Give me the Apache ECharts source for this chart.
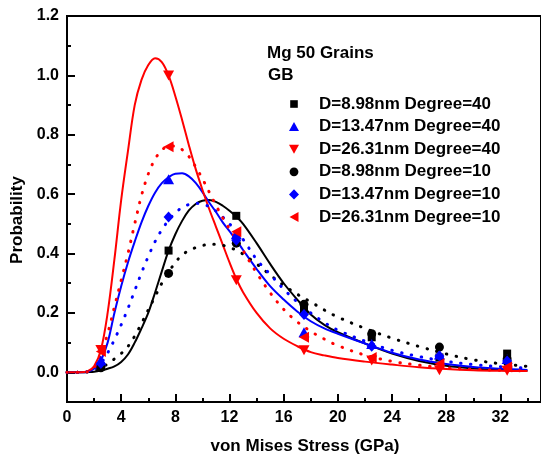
<!DOCTYPE html>
<html><head><meta charset="utf-8">
<script src="https://cdn.jsdelivr.net/npm/echarts@6/dist/echarts.min.js"></script>
<style>html,body{margin:0;padding:0;background:#fff}#c{width:541px;height:459px}</style>
</head><body><div id="c"></div>
<script>
// ---- data ----
const xTicks = [0, 4, 8, 12, 16, 20, 24, 28, 32];
const yTicks = [0, 0.2, 0.4, 0.6, 0.8, 1.0, 1.2];
const stressBins = [2.5, 7.5, 12.5, 17.5, 22.5, 27.5, 32.5];
const seriesNames = ['D=8.98nm Degree=40', 'D=13.47nm Degree=40', 'D=26.31nm Degree=40',
                     'D=8.98nm Degree=10', 'D=13.47nm Degree=10', 'D=26.31nm Degree=10'];
const pts_898_40  = [0.02, 0.41, 0.527, 0.21, 0.118, 0.05, 0.063];
const pts_1347_40 = [0.04, 0.65, 0.465, 0.135, 0.095, 0.06, 0.045];
const pts_2631_40 = [0.075, 1.0, 0.31, 0.074, 0.04, 0.007, 0.005];
const pts_898_10  = [0.015, 0.333, 0.435, 0.229, 0.13, 0.085, 0.045];
const pts_1347_10 = [0.03, 0.523, 0.445, 0.195, 0.088, 0.055, 0.038];
const pts_2631_10 = [0.07, 0.76, 0.473, 0.118, 0.05, 0.029, 0.018];

const curveX = [0,1,1.5,2,2.5,3,3.5,4,4.5,5,
                5.5,6,6.5,7,7.5,8,8.5,9,9.5,10,
                10.5,11,11.5,12,12.5,13,14,15,16,17,
                18,19,20,22,24,26,28,30,32,34];
const fit_898_40 = [0,0,0.001,0.002,0.006,0.012,0.02,0.035,0.06,0.1,
                    0.148,0.2,0.268,0.34,0.41,0.465,0.51,0.545,0.567,0.578,
                    0.58,0.574,0.561,0.544,0.524,0.5,0.435,0.365,0.3,0.245,
                    0.195,0.16,0.135,0.097,0.063,0.038,0.022,0.013,0.008,0.005];
const fit_1347_40 = [0,0,0.002,0.012,0.04,0.1,0.2,0.29,0.37,0.44,
                     0.505,0.56,0.605,0.637,0.657,0.669,0.67,0.66,0.638,0.607,
                     0.572,0.54,0.505,0.475,0.445,0.412,0.348,0.29,0.245,0.205,
                     0.172,0.148,0.13,0.097,0.066,0.043,0.028,0.018,0.012,0.008];
const fit_2631_40 = [0,0,0.003,0.02,0.075,0.2,0.38,0.58,0.745,0.9,
                     0.985,1.035,1.058,1.045,1.0,0.93,0.85,0.765,0.685,0.615,
                     0.55,0.49,0.43,0.37,0.315,0.27,0.2,0.148,0.113,0.088,
                     0.068,0.057,0.048,0.036,0.026,0.017,0.011,0.007,0.005,0.004];
const fit_898_10 = [0,0,0.001,0.005,0.015,0.028,0.045,0.063,0.087,0.122,
                    0.165,0.21,0.255,0.3,0.337,0.37,0.395,0.41,0.42,0.427,
                    0.431,0.431,0.428,0.421,0.411,0.398,0.365,0.328,0.293,0.263,
                    0.237,0.21,0.186,0.148,0.115,0.087,0.062,0.042,0.029,0.02];
const fit_1347_10 = [0,0,0.002,0.01,0.03,0.065,0.11,0.16,0.215,0.275,
                     0.335,0.39,0.44,0.48,0.512,0.537,0.555,0.565,0.569,0.567,
                     0.558,0.543,0.523,0.5,0.475,0.448,0.38,0.33,0.28,0.237,
                     0.2,0.168,0.142,0.105,0.074,0.053,0.037,0.026,0.019,0.014];
const fit_2631_10 = [0,0,0.002,0.015,0.06,0.13,0.22,0.31,0.4,0.5,
                     0.595,0.668,0.718,0.748,0.762,0.762,0.75,0.727,0.692,0.652,
                     0.607,0.563,0.52,0.483,0.448,0.41,0.335,0.268,0.212,0.17,
                     0.138,0.112,0.09,0.058,0.037,0.024,0.015,0.01,0.007,0.005];

// ---- chart ----
const FONT = '"Liberation Sans", Arial, sans-serif';
const BLACK = '#000000', BLUE = '#0000ff', RED = '#ff0000';
const pair = (xs, ys) => xs.map((x, i) => [x, ys[i]]);

const downTri = 'path://M0,0L10,0L5,9Z';
const leftTri = 'path://M0,5L9,0L9,10Z';

const markerDefs = [
  {data: pts_898_40,  color: BLACK, symbol: 'rect', size: 8,
   icon: 'path://M0,0M12,12M2.2,2.2L9.8,2.2L9.8,9.8L2.2,9.8Z'},
  {data: pts_1347_40, color: BLUE, symbol: 'triangle', size: [11, 10],
   icon: 'path://M0,0M12,12M1,10.5L11,10.5L6,1.5Z'},
  {data: pts_2631_40, color: RED, symbol: downTri, size: [11, 10],
   icon: 'path://M0,0M12,12M1,1.5L11,1.5L6,10.5Z'},
  {data: pts_898_10,  color: BLACK, symbol: 'circle', size: 9,
   icon: 'path://M0,0M12,12M1.6,6A4.4,4.4,0,1,0,10.4,6A4.4,4.4,0,1,0,1.6,6Z'},
  {data: pts_1347_10, color: BLUE, symbol: 'diamond', size: [10, 11],
   icon: 'path://M0,0M12,12M6,0.8L11,6L6,11.2L1,6Z'},
  {data: pts_2631_10, color: RED, symbol: leftTri, size: [10, 11],
   icon: 'path://M0,0M12,12M1.5,6L10.5,1L10.5,11Z'}
];
const fitDefs = [
  {data: fit_898_40, color: BLACK, dotted: false},
  {data: fit_1347_40, color: BLUE, dotted: false},
  {data: fit_2631_40, color: RED, dotted: false},
  {data: fit_898_10, color: BLACK, dotted: true},
  {data: fit_1347_10, color: BLUE, dotted: true},
  {data: fit_2631_10, color: RED, dotted: true}
];

const series = [];
fitDefs.forEach((f, i) => {
  series.push({
    type: 'line', name: 'fit' + i, xAxisIndex: 0, yAxisIndex: 0,
    data: pair(curveX, f.data), showSymbol: false, smooth: 0.35,
    silent: true, z: 2, clip: true,
    lineStyle: f.dotted
      ? {color: f.color, width: 3, type: [0.5, 9.5], cap: 'round'}
      : {color: f.color, width: 2}
  });
});
markerDefs.forEach((m, i) => {
  series.push({
    type: 'scatter', name: seriesNames[i], xAxisIndex: 0, yAxisIndex: 0,
    data: pair(stressBins, m.data), symbol: m.symbol, symbolSize: m.size,
    itemStyle: {color: m.color, opacity: 1}, z: 5
  });
});

const labelStyle = {color: '#000', fontFamily: FONT, fontWeight: 'bold', fontSize: 16};

const option = {
  animation: false,
  backgroundColor: '#ffffff',
  grid: {left: 67, top: 16, width: 490, height: 386, show: true,
         borderColor: '#000', borderWidth: 2, backgroundColor: 'transparent'},
  xAxis: [
    {type: 'value', min: 0, max: 35, position: 'bottom',
     axisLine: {show: true, onZero: false, lineStyle: {color: '#000', width: 2}},
     axisTick: {show: true, inside: true, length: 8, lineStyle: {color: '#000', width: 2}, customValues: xTicks},
     axisLabel: Object.assign({margin: 8, customValues: xTicks, formatter: v => String(v)}, labelStyle),
     splitLine: {show: false}},
    {type: 'value', min: 0, max: 35, interval: 2, position: 'bottom', offset: 0,
     axisLine: {show: false, onZero: false},
     axisTick: {show: true, inside: true, length: 4, lineStyle: {color: '#000', width: 2}},
     axisLabel: {show: false}, splitLine: {show: false}}
  ],
  yAxis: [
    {type: 'value', min: -0.1, max: 1.2, position: 'left',
     axisLine: {show: true, onZero: false, lineStyle: {color: '#000', width: 2}},
     axisTick: {show: true, inside: true, length: 8, lineStyle: {color: '#000', width: 2}, customValues: yTicks},
     axisLabel: Object.assign({margin: 8, customValues: yTicks, formatter: v => v.toFixed(1)}, labelStyle),
     splitLine: {show: false}},
    {type: 'value', min: -0.1, max: 1.2, interval: 0.1, position: 'left', offset: 0,
     axisLine: {show: false, onZero: false},
     axisTick: {show: true, inside: true, length: 4, lineStyle: {color: '#000', width: 2}},
     axisLabel: {show: false}, splitLine: {show: false}}
  ],
  legend: {
    orient: 'vertical', left: 283, top: 90, itemWidth: 12, itemHeight: 12, itemGap: 4.6,
    data: seriesNames.map((n, i) => ({name: n, icon: markerDefs[i].icon})),
    textStyle: {color: '#000', fontFamily: FONT, fontWeight: 'bold', fontSize: 17,
                lineHeight: 18, padding: [0, 0, 0, 14]},
    selectedMode: false
  },
  graphic: [
    {type: 'text', x: 267, y: 53, style: {text: 'Mg 50 Grains', fill: '#000',
      font: 'bold 17px ' + FONT, textAlign: 'left', textVerticalAlign: 'middle'}},
    {type: 'text', x: 268, y: 75, style: {text: 'GB', fill: '#000',
      font: 'bold 17px ' + FONT, textAlign: 'left', textVerticalAlign: 'middle'}},
    {type: 'text', x: 305, y: 446, style: {text: 'von Mises Stress (GPa)', fill: '#000',
      font: 'bold 17px ' + FONT, textAlign: 'center', textVerticalAlign: 'middle'}},
    {type: 'text', x: 17, y: 220, rotation: Math.PI / 2, style: {text: 'Probability', fill: '#000',
      font: 'bold 17px ' + FONT, textAlign: 'center', textVerticalAlign: 'middle'}}
  ],
  series: series
};

const chart = echarts.init(document.getElementById('c'), null, {renderer: 'canvas'});
chart.setOption(option);
</script>
</body></html>
